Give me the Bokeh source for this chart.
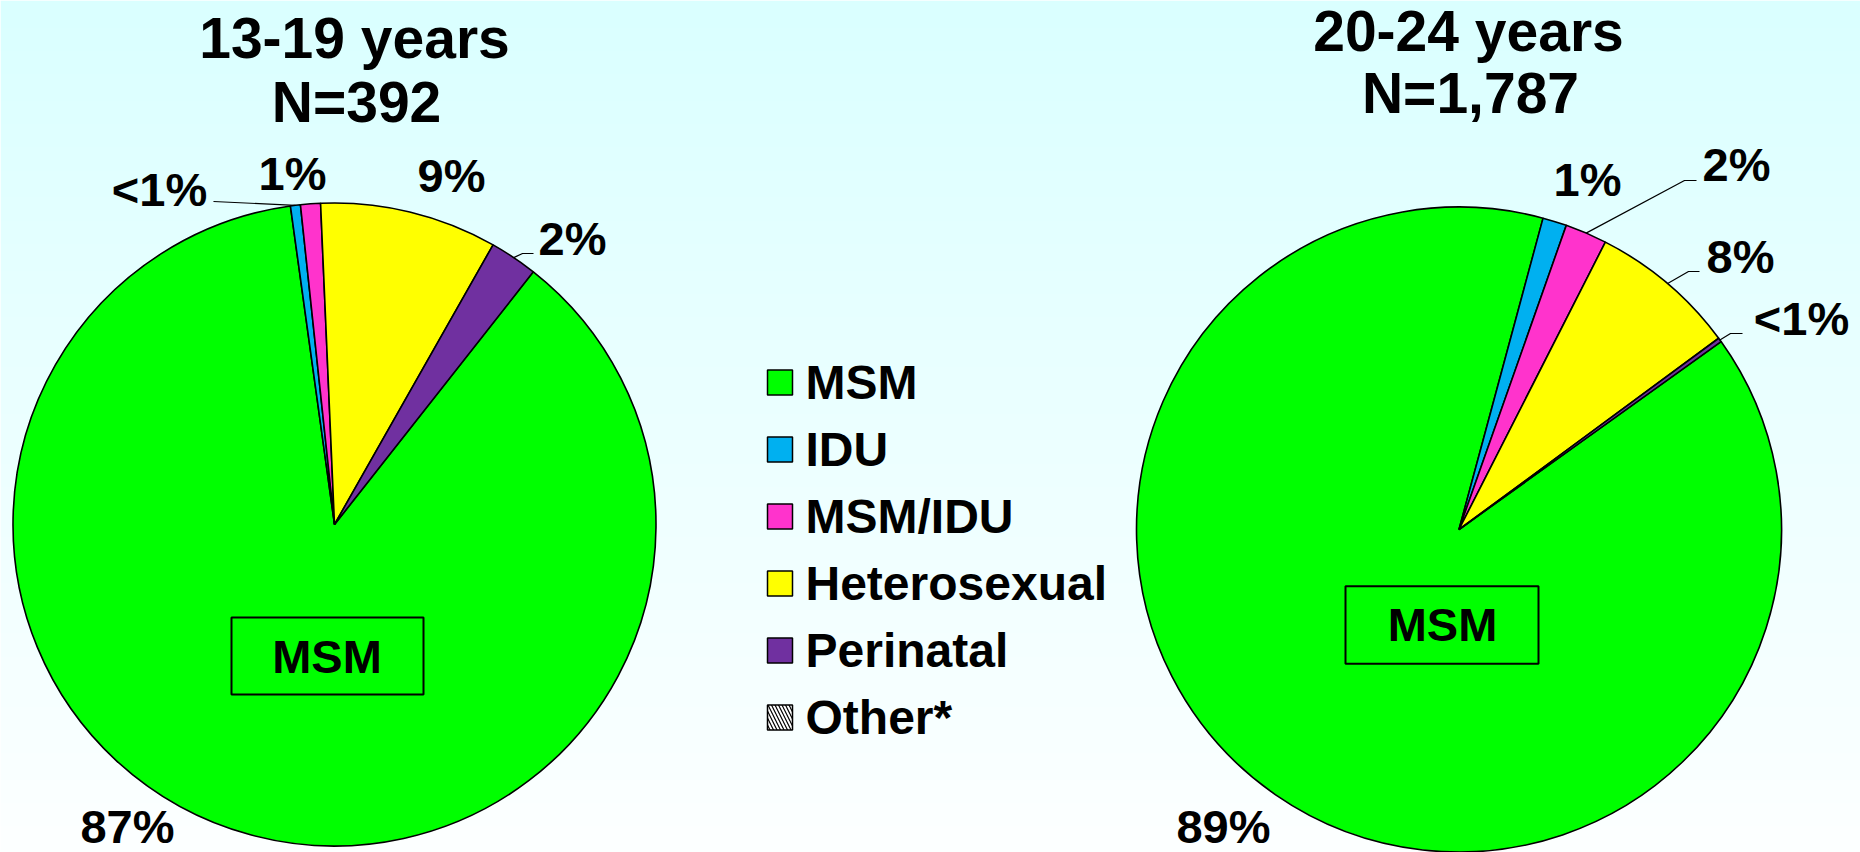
import numpy as np
from bokeh.plotting import figure
from bokeh.models import Range1d, ColumnDataSource
from bokeh.core.properties import value
from bokeh.embed import file_html
from bokeh.resources import INLINE

# ---------------- data ----------------
categories = ["MSM", "IDU", "MSM/IDU", "Heterosexual", "Perinatal", "Other*"]
left_values = [87.2, 0.5, 1.0, 8.9, 2.4, 0.0]
right_values = [89.1, 1.2, 2.1, 7.4, 0.2, 0.0]
left_labels = ["87%", "<1%", "1%", "9%", "2%", ""]
right_labels = ["89%", "1%", "2%", "8%", "<1%", ""]
left_title = ["13-19 years", "N=392"]
right_title = ["20-24 years", "N=1,787"]
box_label = "MSM"

# ---------------- styles ----------------
colors = ["#00FF00", "#00B0F0", "#FF33CC", "#FFFF00", "#7030A0", "#FFFFFF"]
FONT = value("Liberation Sans")
REF_H = 852


def Y(yref):
    return REF_H - yref


W, H = 1860, 852
p = figure(width=W, height=H, x_range=Range1d(0, 1860), y_range=Range1d(0, 852),
           output_backend="svg", toolbar_location=None, min_border=0,
           x_axis_location=None, y_axis_location=None)
p.grid.visible = False
p.outline_line_color = None
p.background_fill_color = "#FFFFFF"
p.border_fill_color = "#FFFFFF"

# background gradient (light cyan at top -> near white at bottom)
n = 256
t = np.linspace(0, 1, n)  # 0 bottom, 1 top
r = (253 - (253 - 218) * t).astype(np.uint32)
img = np.empty((n, 1), dtype=np.uint32)
view = img.view(dtype=np.uint8).reshape((n, 1, 4))
view[:, 0, 0] = r
view[:, 0, 1] = 255
view[:, 0, 2] = 255
view[:, 0, 3] = 255
p.image_rgba(image=[img], x=0, y=0, dw=1860, dh=852)


def draw_pie(values, labels, cx, cy_ref, radius, start_deg, label_pos, leaders):
    vals = np.array(values, dtype=float)
    frac = vals / vals.sum()
    cum = np.cumsum(frac)
    prev = np.concatenate([[0.0], cum[:-1]])
    th_a = start_deg + 360 * prev
    th_b = start_deg + 360 * cum
    keep = vals > 0
    src = ColumnDataSource(dict(
        start=np.radians(90 - th_b[keep]),
        end=np.radians(90 - th_a[keep]),
        color=[c for c, k in zip(colors, keep) if k],
    ))
    p.wedge(x=cx, y=Y(cy_ref), radius=radius, start_angle="start", end_angle="end",
            fill_color="color", line_color="black", line_width=1.6, source=src)
    xs, ys, ts = [], [], []
    for i, lab in enumerate(labels):
        if lab and i in label_pos:
            lx, ly = label_pos[i]
            xs.append(lx); ys.append(Y(ly)); ts.append(lab)
    p.text(x=xs, y=ys, text=ts, text_font=FONT, text_font_style="bold",
           text_font_size="47px", text_align="center", text_baseline="middle",
           text_color="black")
    for i, pts in leaders.items():
        mid = np.radians((th_a[i] + th_b[i]) / 2)
        x0 = cx + radius * np.sin(mid)
        y0 = cy_ref - radius * np.cos(mid)
        lx = [x0] + [q[0] for q in pts]
        ly = [Y(y0)] + [Y(q[1]) for q in pts]
        p.line(lx, ly, line_color="black", line_width=1.2)


# left pie
draw_pie(left_values, left_labels, 334, 524, 321.5, 38.2,
         {0: (127, 826), 1: (159, 189), 2: (292, 173), 3: (451, 175), 4: (572, 238)},
         {1: [(213, 201)], 4: [(522, 253), (533, 253)]})
# right pie
draw_pie(right_values, right_labels, 1458.5, 529, 322.5, 54.35,
         {0: (1223, 826), 1: (1587, 179), 2: (1736, 164), 3: (1740, 256), 4: (1801, 318)},
         {2: [(1684, 180), (1696, 180)], 3: [(1688, 271), (1699, 271)],
          4: [(1730, 333), (1742, 333)]})

# titles
p.text(x=[354, 356, 1468, 1470], y=[Y(37), Y(101), Y(30), Y(92)],
       text=[left_title[0], left_title[1], right_title[0], right_title[1]],
       text_font=FONT, text_font_style="bold", text_font_size="57px",
       text_align="center", text_baseline="middle", text_color="black")

# MSM boxes
p.rect(x=[327, 1441.5], y=[Y(655.5), Y(624.5)], width=[192, 193], height=[77, 77.5],
       fill_color=None, line_color="black", line_width=2)
p.text(x=[326.5, 1442], y=[Y(655.5), Y(624)], text=[box_label, box_label],
       text_font=FONT, text_font_style="bold", text_font_size="47px",
       text_align="center", text_baseline="middle", text_color="black")

# legend
row_c = [382 + i * 67 for i in range(len(categories))]
sq = ColumnDataSource(dict(x=[779.5] * 5, y=[Y(v) for v in row_c[:5]], c=colors[:5]))
p.rect(x="x", y="y", width=25, height=25, fill_color="c", line_color="black",
       line_width=1.5, source=sq)
p.rect(x=779.5, y=Y(row_c[5]), width=25, height=25, fill_color="white",
       hatch_pattern="\\", hatch_color="black", hatch_scale=7, hatch_weight=1.2,
       line_color="black", line_width=1.5)
p.text(x=[805] * len(categories), y=[Y(v) for v in row_c], text=categories,
       text_font=FONT, text_font_style="bold", text_font_size="48px",
       text_align="left", text_baseline="middle", text_color="black")

open("out.html", "w").write(file_html(p, INLINE))
